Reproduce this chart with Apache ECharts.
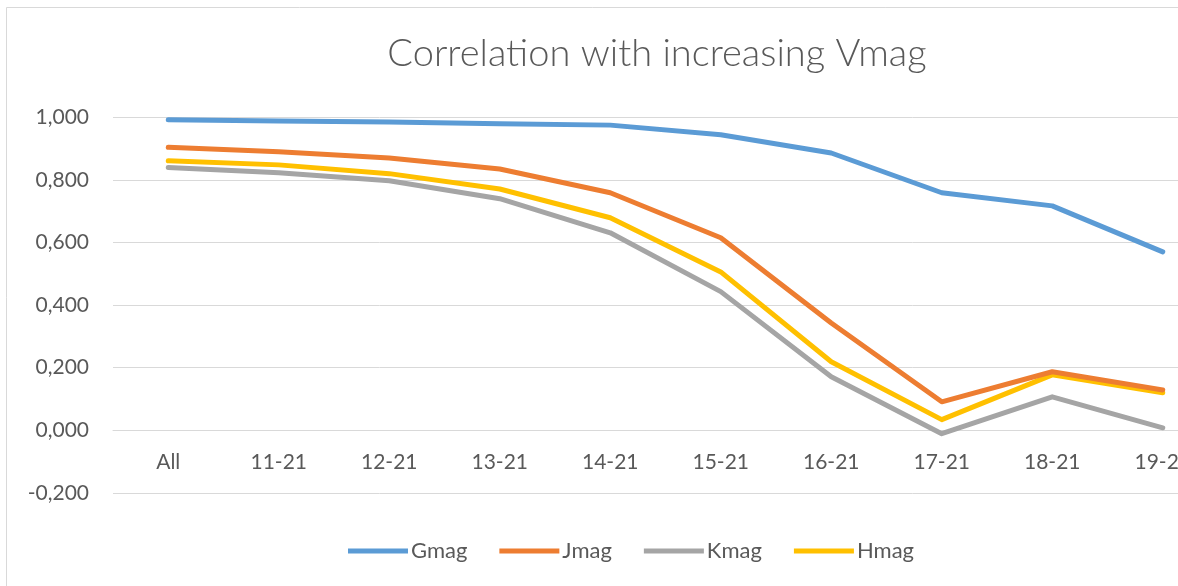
<!DOCTYPE html>
<html>
<head>
<meta charset="utf-8">
<script src="https://cdn.jsdelivr.net/npm/echarts@6/dist/echarts.min.js"></script>
<style>
  html, body { margin: 0; padding: 0; background: #fff; }
  #chart { width: 1178px; height: 586px; }
</style>
</head>
<body>
<div id="chart"></div>
<script>
// Magnitude bins (V-band ranges)
const categories = ['All', '11-21', '12-21', '13-21', '14-21', '15-21', '16-21', '17-21', '18-21', '19-21'];

// Correlation coefficients per band
const gmag = [0.992, 0.988, 0.985, 0.979, 0.975, 0.944, 0.886, 0.759, 0.717, 0.570];
const jmag = [0.904, 0.890, 0.870, 0.835, 0.759, 0.615, 0.343, 0.091, 0.187, 0.129];
const kmag = [0.840, 0.823, 0.797, 0.740, 0.631, 0.443, 0.171, -0.011, 0.107, 0.008];
const hmag = [0.861, 0.848, 0.820, 0.771, 0.679, 0.506, 0.219, 0.034, 0.177, 0.120];

const FONT = 'Lato';
const TEXT = '#595959';

// y-axis range; the category axis sits on the zero line
const Y_MIN = -0.2, Y_MAX = 1.0, Y_STEP = 0.2;
const GRID_TOP = 117.3, GRID_H = 375.6;
const zeroOffset = -GRID_H * (0 - Y_MIN) / (Y_MAX - Y_MIN);

const chart = echarts.init(document.getElementById('chart'));

function line(name, data, color, z) {
  return {
    name: name,
    type: 'line',
    data: data,
    symbol: 'none',
    z: z,
    lineStyle: { width: 5, color: color, cap: 'round', join: 'round' },
    itemStyle: { color: color }
  };
}

chart.setOption({
  animation: false,
  backgroundColor: '#ffffff',
  graphic: [{
    type: 'rect',
    shape: { x: 6.5, y: 7.5, width: 1300, height: 700 },
    style: { fill: 'none', stroke: '#d9d9d9', lineWidth: 1 },
    silent: true
  }],
  title: {
    text: 'Correlation with increasing Vmag',
    left: 652,
    top: 30,
    textAlign: 'center',
    textStyle: { fontFamily: FONT, fontWeight: 300, fontSize: 38, color: TEXT }
  },
  legend: {
    data: ['Gmag', 'Jmag', 'Kmag', 'Hmag'],
    left: 343,
    top: 535,
    icon: 'rect',
    itemWidth: 60,
    itemHeight: 5,
    itemGap: 32,
    textStyle: { fontFamily: FONT, fontSize: 22, color: TEXT, padding: [0, 0, 0, -2] }
  },
  // the plot runs past the right edge of the canvas, so outer bounds are not enforced
  grid: {
    left: 113, top: GRID_TOP, width: 1105, height: GRID_H,
    containLabel: false, outerBoundsMode: 'none'
  },
  xAxis: {
    type: 'category',
    data: categories,
    boundaryGap: true,
    offset: zeroOffset,
    axisLine: { show: true, onZero: false, lineStyle: { color: '#d9d9d9', width: 1 } },
    axisTick: { show: false },
    axisLabel: { fontFamily: FONT, fontSize: 21, color: TEXT, margin: 21 },
    splitLine: { show: false }
  },
  yAxis: {
    type: 'value',
    min: Y_MIN,
    max: Y_MAX,
    interval: Y_STEP,
    axisLine: { show: false },
    axisTick: { show: false },
    axisLabel: {
      fontFamily: FONT, fontSize: 21, color: TEXT, margin: 24,
      formatter: v => v.toFixed(3).replace('.', ',')
    },
    splitLine: { lineStyle: { color: '#d9d9d9', width: 1 } }
  },
  series: [
    line('Gmag', gmag, '#5b9bd5', 5),
    line('Jmag', jmag, '#ed7d31', 4),
    line('Kmag', kmag, '#a5a5a5', 2),
    line('Hmag', hmag, '#ffc000', 3)
  ]
});
</script>
</body>
</html>
